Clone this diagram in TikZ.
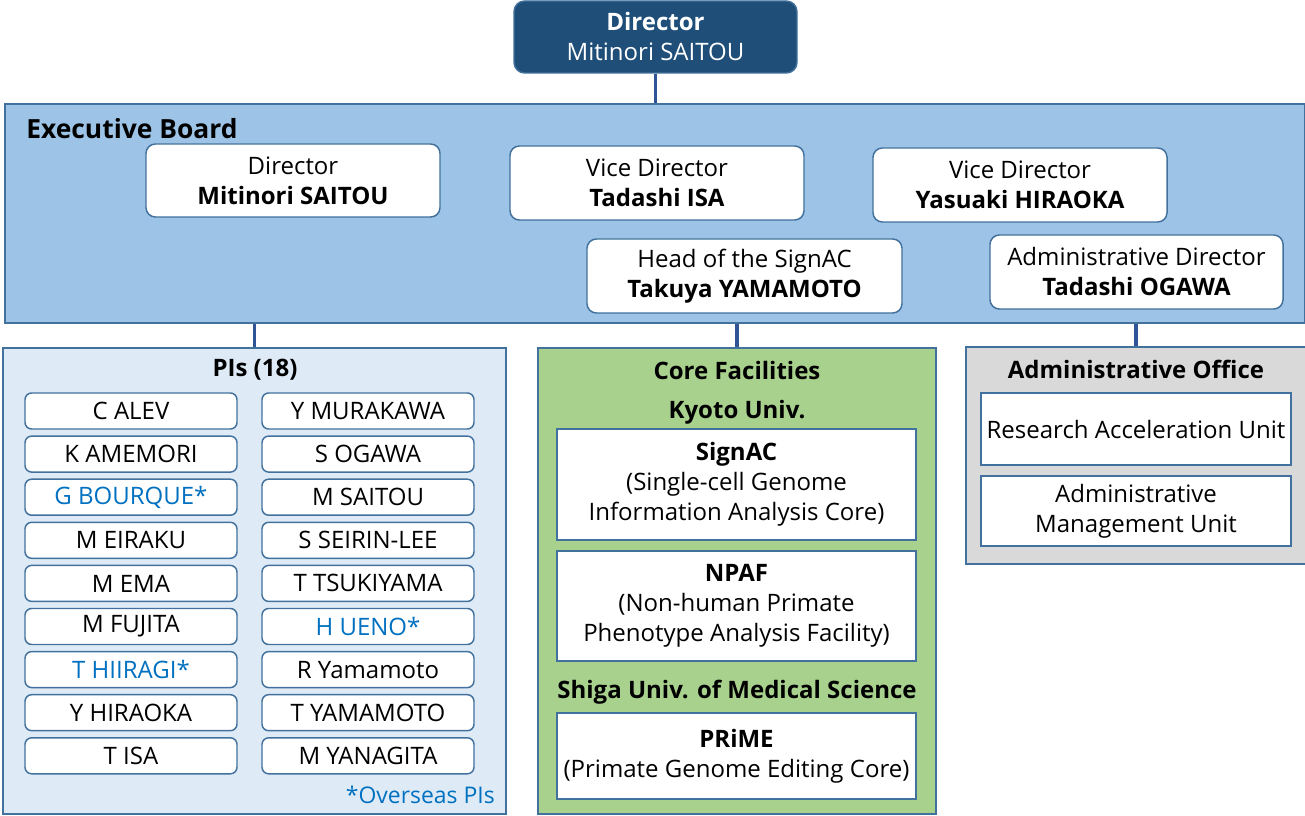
\documentclass[tikz,border=0pt]{standalone}
\usepackage{fontspec}
\setmainfont{Open Sans}
\usetikzlibrary{positioning}
\definecolor{topfill}{HTML}{1F4E79}
\definecolor{boardfill}{HTML}{9DC3E6}
\definecolor{pifill}{HTML}{DEEBF7}
\definecolor{corefill}{HTML}{A9D18E}
\definecolor{admfill}{HTML}{D9D9D9}
\definecolor{edge}{HTML}{41719C}
\definecolor{conn}{HTML}{2F5597}
\definecolor{ovs}{HTML}{0070C0}
\tikzset{
  txt/.style={font=\fontsize{18}{22.5}\selectfont, align=center, inner sep=0pt},
  btxt/.style={font=\fontsize{18}{22.5}\selectfont\bfseries, align=center, inner sep=0pt},
  panel/.style={draw=edge, line width=1.1pt, inner sep=0pt},
  rbox/.style={draw=edge, line width=1.1pt, fill=white, rounded corners=7pt, inner sep=0pt, align=center, font=\fontsize{18}{22.5}\selectfont},
  sbox/.style={draw=edge, line width=1.1pt, fill=white, inner sep=0pt, align=center, font=\fontsize{18}{22.5}\selectfont},
  namebox/.style={rbox, minimum width=159pt, minimum height=27pt, rounded corners=5pt},
  link/.style={draw=conn, line width=2.7pt},
}
\begin{document}
\begin{tikzpicture}[x=0.75pt,y=-0.75pt]
\useasboundingbox (0,0) rectangle (1305,816);
% top director
\node[rbox, fill=topfill, draw=edge, text=white, minimum width=212.25pt, minimum height=54pt, rounded corners=8pt] (top) at (655.5,37) {\textbf{Director}\\Mitinori SAITOU};
% executive board
\node[panel, fill=boardfill, minimum width=975pt, minimum height=164.25pt] (board) at (655,213.5) {};
\node[btxt, anchor=west, font=\fontsize{19.8}{22}\selectfont\bfseries] (boardlbl) at (26,129) {Executive Board};
\node[rbox, minimum width=220.5pt, minimum height=54.75pt] (dir) at (293,180.5) {Director\\\textbf{Mitinori SAITOU}};
\node[rbox, minimum width=220.5pt, minimum height=55.5pt] (vd1) at (657,183) {Vice Director\\\textbf{Tadashi ISA}};
\node[rbox, minimum width=220.5pt, minimum height=55.5pt] (vd2) at (1020,185) {Vice Director\\\textbf{Yasuaki HIRAOKA}};
\node[rbox, minimum width=236.25pt, minimum height=55.5pt] (head) at (744.5,276) {Head of the SignAC\\\textbf{Takuya YAMAMOTO}};
\node[rbox, minimum width=219.75pt, minimum height=55.5pt] (admdir) at (1136.5,272) {Administrative Director\\\textbf{Tadashi OGAWA}};
% PIs panel
\node[panel, fill=pifill, minimum width=377.25pt, minimum height=349.5pt] (pis) at (254.5,581) {};
\node[btxt] (pislbl) at (255,370) {PIs (18)};
\foreach \n/\t/\c [count=\i from 0] in {a/C ALEV/black, b/K AMEMORI/black, c/G BOURQUE*/ovs, d/M EIRAKU/black, e/M EMA/black, f/M FUJITA/black, g/T HIIRAGI*/ovs, h/Y HIRAOKA/black, k/T ISA/black}
  \node[namebox, text=\c] (L\n) at (131,411+43.1*\i) {\t};
\foreach \n/\t/\c [count=\i from 0] in {a/Y MURAKAWA/black, b/S OGAWA/black, c/M SAITOU/black, d/S SEIRIN-LEE/black, e/T TSUKIYAMA/black, f/H UENO*/ovs, g/R Yamamoto/black, h/T YAMAMOTO/black, k/M YANAGITA/black}
  \node[namebox, text=\c] (R\n) at (368,411+43.1*\i) {\t};
\node[txt, text=ovs, anchor=east, font=\fontsize{17.2}{22.5}\selectfont] (ovsnote) at (495,795) {*Overseas PIs};
% Core facilities
\node[panel, fill=corefill, minimum width=298.5pt, minimum height=349.5pt] (core) at (737,581) {};
\node[btxt] (corelbl) at (737,370) {Core Facilities};
\node[btxt] (kyoto) at (737,412) {Kyoto Univ.};
\node[sbox, minimum width=269.25pt, minimum height=83.25pt] (signac) at (736.5,484.5) {\textbf{SignAC}\\(Single-cell Genome\\Information Analysis Core)};
\node[sbox, minimum width=269.25pt, minimum height=82.5pt] (npaf) at (736.5,606) {\textbf{NPAF}\\(Non-human Primate\\Phenotype Analysis Facility)};
\node[btxt] (shiga) at (737,692) {Shiga Univ. of Medical Science};
\node[sbox, minimum width=269.25pt, minimum height=64.5pt] (prime) at (736.5,756) {\textbf{PRiME}\\(Primate Genome Editing Core)};
% Administrative office
\node[panel, fill=admfill, minimum width=255pt, minimum height=162.75pt] (adm) at (1136,455.5) {};
\node[btxt] (admlbl) at (1136,369) {Administrative Office};
\node[sbox, minimum width=232.5pt, minimum height=54pt] (rau) at (1136,429) {Research Acceleration Unit};
\node[sbox, minimum width=232.5pt, minimum height=52.5pt] (amu) at (1136,511) {Administrative\\Management Unit};
% connectors
\draw[link] (top.south) -- (top.south |- board.north);
\draw[link] (pis.north) -- (pis.north |- board.south);
\draw[link] (core.north) -- (core.north |- board.south);
\draw[link] (adm.north) -- (adm.north |- board.south);
\end{tikzpicture}
\end{document}
